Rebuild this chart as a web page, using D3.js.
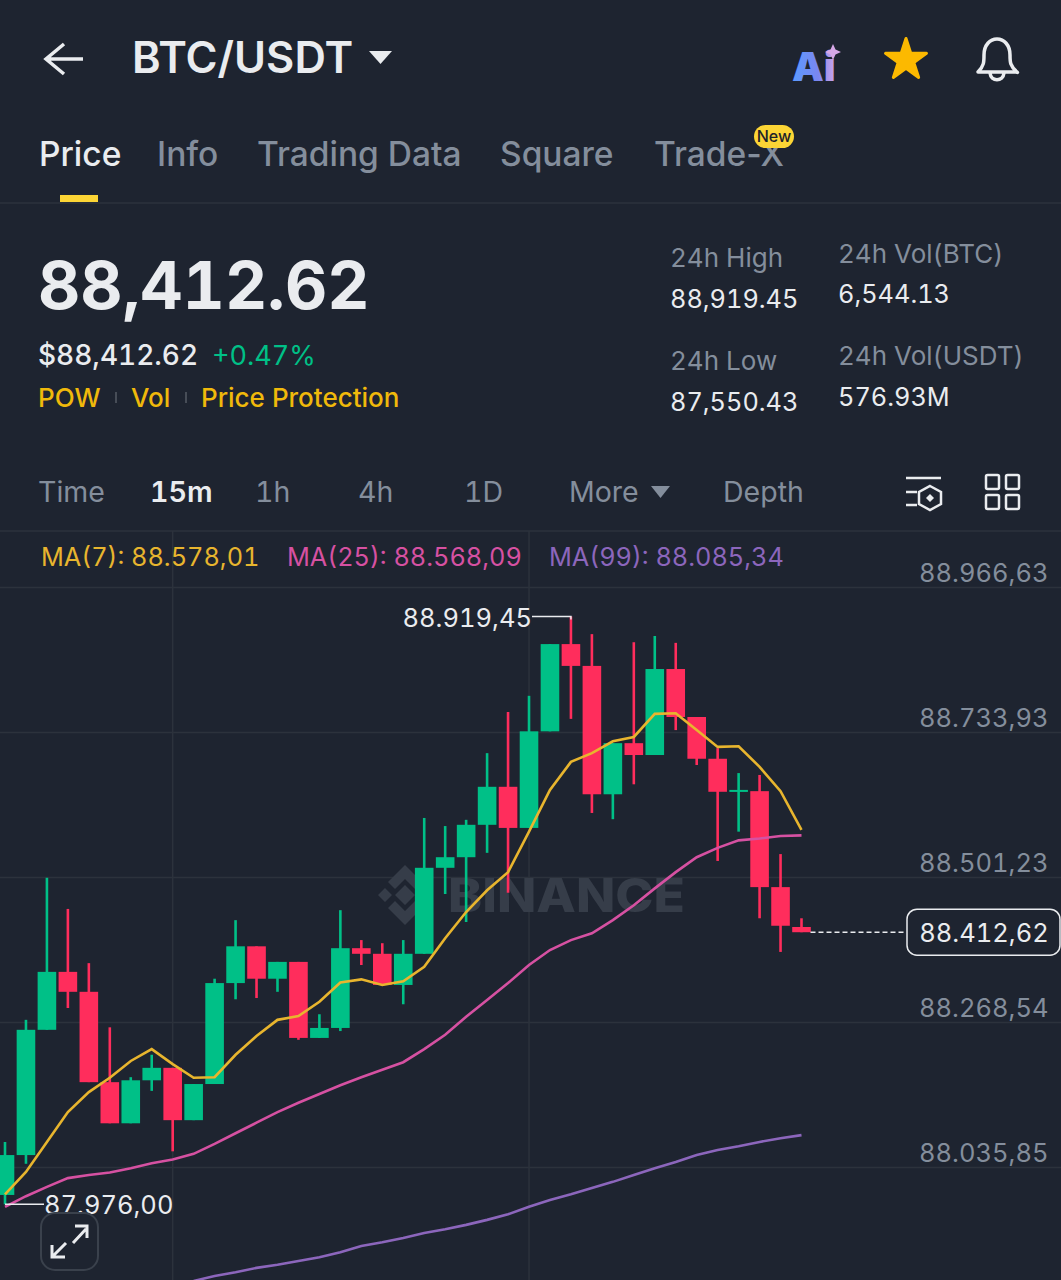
<!DOCTYPE html>
<html>
<head>
<meta charset="utf-8">
<script src="https://d3js.org/d3.v7.min.js"></script>
<style>
html, body { margin: 0; padding: 0; background: #1e2430; }
svg { display: block; font-family: Inter, "Noto Sans", sans-serif; font-variant-numeric: tabular-nums; }
</style>
</head>
<body>
<div id="chart"></div>
<script>
const width = 1061,
	height = 1280;

// candles, oldest first
const opens = [87991,88055,88256,88349,88317,88172,88106,88175,88195,88111,88169,88331,88390,88338,88365,88243,88259,88387,88378,88328,88378,88516,88533,88585,88646,88580,88735,88875,88840,88634,88716,88697,88835,88758,88691,88638,88639,88485,88421];
const highs = [88076,88272,88500,88450,88363,88260,88180,88216,88195,88169,88338,88432,88390,88365,88365,88281,88448,88400,88395,88400,88596,88583,88593,88700,88766,88792,88875,88919.45,88891,88716,88878,88888,88877,88758,88708,88668,88665,88538,88435];
const lows = [87976,88041,88256,88291,88172,88106,88106,88158,88061,88111,88169,88305,88307,88317,88240,88243,88254,88360,88328,88297,88378,88474,88429,88540,88476,88580,88735,88755,88604,88594,88650,88697,88737,88681,88527,88574,88435,88381,88412.62];
const closes = [88055,88256,88349,88317,88172,88106,88175,88195,88111,88169,88331,88390,88338,88365,88243,88259,88387,88378,88328,88378,88516,88533,88585,88646,88580,88735,88875,88840,88634,88716,88697,88835,88758,88691,88638,88641,88485,88423,88412.62];

// moving averages
const ma7 = [87992,88028,88076,88124,88156,88179,88206,88225,88201,88179,88180,88216,88246,88272,88278,88301,88332,88337,88328,88334,88357,88403,88445,88480,88509,88574,88641,88686,88700,88719,88726,88763,88764,88737,88710,88711,88678,88639,88577];
const ma25 = [87972,87989,88004,88018,88023,88027,88034,88042,88048,88057,88073,88090,88107,88124,88139,88153,88167,88180,88192,88204,88225,88248,88277,88304,88331,88360,88384,88400,88411,88432,88456,88483,88509,88533,88548,88560,88563,88567,88568];
const ma99 = [null,null,null,null,null,null,null,null,null,87853,87861,87867,87874,87879,87885,87891,87899,87909,87915,87922,87930,87936,87943,87951,87960,87972,87983,87992,88002,88012,88023,88034,88044,88055,88063,88069,88076,88082,88087];

const priceTicks = [88966.63, 88733.93, 88501.23, 88268.54, 88035.85];
const lastPrice = 88412.62,
	highPrice = 88919.45,
	lowPrice = 87976.00;
const maNames = ["MA(7)", "MA(25)", "MA(99)"];
const maLast = [88578.01, 88568.09, 88085.34];
const maLegendX = [42, 288, 550];

const tabs = ["Price", "Info", "Trading Data", "Square", "Trade-X"];
const tabX = [39, 157, 257, 500, 654];
const periods = ["Time", "15m", "1h", "4h", "1D", "More", "Depth"];
const periodX = [38, 150, 255, 358, 464, 569, 723];

const bg = "#1e2430",
	grid = "#2c323c",
	white = "#eaecef",
	gray = "#848e9c",
	yellow = "#f0b90b",
	green = "#00c087",
	red = "#ff2d5c",
	ma7Color = "#e8b52e",
	ma25Color = "#d651a2",
	ma99Color = "#8c66bc";
const maColors = [ma7Color, ma25Color, ma99Color];

const euro = d3.formatLocale({decimal: ",", thousands: ".", grouping: [3], currency: ["", ""]}).format(",.2f");

const svg = d3.select("#chart")
	.append("svg")
	.attr("width", width)
	.attr("height", height)
	.attr("viewBox", [0, 0, width, height]);

const x = d3.scaleLinear().domain([0, opens.length - 1]).range([5, 801.5]);
const y = d3.scaleLinear().domain([priceTicks[0], priceTicks[4]]).range([587, 1167]);

function label(g, px, py, text, size, color, weight, anchor) {
	return g.append("text")
		.attr("x", px)
		.attr("y", py)
		.attr("font-size", size)
		.attr("fill", color)
		.attr("font-weight", weight || 400)
		.attr("text-anchor", anchor || "start")
		.text(text);
}

svg.append("rect").attr("width", width).attr("height", height).attr("fill", bg);

// header
const head = svg.append("g");
head.append("path")
	.attr("d", "M83 59H47M64 44L46 59L64 74")
	.attr("fill", "none").attr("stroke", white).attr("stroke-width", 3.5);
label(head, 132, 73, "BTC/USDT", 43.5, white, 600);
head.append("path").attr("d", "M369 51H392L380.5 64Z").attr("fill", white);

const aiGrad = svg.append("defs").append("linearGradient").attr("id", "aiGrad");
aiGrad.append("stop").attr("offset", "0%").attr("stop-color", "#5b9bff");
aiGrad.append("stop").attr("offset", "60%").attr("stop-color", "#7a86f0");
aiGrad.append("stop").attr("offset", "100%").attr("stop-color", "#cfa5e8");
label(head, 792, 81, "Ai", 40, "url(#aiGrad)", 900);
head.append("path").attr("d", "M833 44L835.5 49.5L841 52L835.5 54.5L833 60L830.5 54.5L825 52L830.5 49.5Z").attr("fill", "#d6a8e6");
head.append("path")
	.attr("d", d3.symbol(d3.symbolStar, 520)())
	.attr("transform", "translate(906,60)")
	.attr("fill", "#fcb900").attr("stroke", "#fcb900").attr("stroke-width", 3).attr("stroke-linejoin", "round");
head.append("path")
	.attr("d", "M978 72C984 66 984 62 984 55C984 45 990 39 997 39C1004 39 1010 45 1010 55C1010 62 1010 66 1017 72C1018 73 1017 72 1016 72H979ZM990 73C991 82 1003 82 1004 73")
	.attr("fill", "none").attr("stroke", white).attr("stroke-width", 3.5).attr("stroke-linejoin", "round");

// tabs
const tabRow = svg.append("g").style("font-variant-numeric", "normal");
tabs.forEach((t, i) => label(tabRow, tabX[i], 166, t, 33.5, i === 0 ? white : gray, 500));
tabRow.append("rect").attr("x", 60).attr("y", 195).attr("width", 38).attr("height", 7).attr("fill", "#fcd535");
tabRow.append("rect").attr("x", 754).attr("y", 125).attr("width", 40).attr("height", 23).attr("rx", 11.5).attr("fill", "#fcd535");
label(tabRow, 774, 142, "New", 16, "#1e2329", 500, "middle");
svg.append("line").attr("x1", 0).attr("x2", width).attr("y1", 203).attr("y2", 203).attr("stroke", grid).attr("stroke-width", 1.5);

// price summary
const stats = svg.append("g");
label(stats, 38, 309, "88,412.62", 65.5, white, 700);
label(stats, 38, 365, "$88,412.62", 28, white, 500);
label(stats, 212, 365, "+0.47%", 27, green, 400);
label(stats, 38, 407, "POW", 26, yellow, 500);
label(stats, 131, 407, "Vol", 26, yellow, 500);
label(stats, 201, 407, "Price Protection", 26, yellow, 500);
stats.append("rect").attr("x", 115).attr("y", 392).attr("width", 2).attr("height", 11).attr("fill", "#474d57");
stats.append("rect").attr("x", 185).attr("y", 392).attr("width", 2).attr("height", 11).attr("fill", "#474d57");
label(stats, 670, 267, "24h High", 26, gray);
label(stats, 670, 308, "88,919.45", 25.3, white);
label(stats, 670, 370, "24h Low", 26, gray);
label(stats, 670, 411, "87,550.43", 25.3, white);
label(stats, 838, 263, "24h Vol(BTC)", 26, gray);
label(stats, 838, 303, "6,544.13", 25.3, white);
label(stats, 838, 365, "24h Vol(USDT)", 26, gray);
label(stats, 838, 406, "576.93M", 25.3, white);

// period row
const row = svg.append("g");
periods.forEach((p, i) => label(row, periodX[i], 502, p, 28.5, i === 1 ? white : gray, i === 1 ? 600 : 400));
row.append("path").attr("d", "M651 486H670L660.5 498Z").attr("fill", gray);
row.append("path").attr("d", "M906 478H941M906 492H917M906 505H917").attr("stroke", white).attr("stroke-width", 2.5).attr("fill", "none");
row.append("path").attr("d", "M930 486L941 492V504L930 510L919 504V492Z").attr("stroke", white).attr("stroke-width", 2.5).attr("fill", "none");
row.append("path").attr("d", "M930 494L934 498L930 502L926 498Z").attr("fill", white);
row.selectAll(".cell")
	.data([[986, 475], [1006, 475], [986, 495], [1006, 495]])
	.enter().append("rect")
	.attr("x", d => d[0]).attr("y", d => d[1])
	.attr("width", 13).attr("height", 14).attr("rx", 1.5)
	.attr("fill", "none").attr("stroke", white).attr("stroke-width", 2.5);
svg.append("line").attr("x1", 0).attr("x2", width).attr("y1", 531).attr("y2", 531).attr("stroke", grid).attr("stroke-width", 1.5);

// price axis: grid lines run the whole width, labels sit above them
const axis = d3.axisLeft(y)
	.tickValues(priceTicks)
	.tickSize(width)
	.tickFormat(euro);
svg.append("g")
	.attr("transform", `translate(${width},0)`)
	.call(axis)
	.call(g => g.select(".domain").remove())
	.call(g => g.selectAll("line").attr("stroke", grid).attr("stroke-width", 1.5))
	.call(g => g.selectAll("text")
		.attr("x", -12.5)
		.attr("dy", -6)
		.attr("text-anchor", "end")
		.attr("font-family", "Inter, sans-serif")
		.attr("font-size", 25.5)
		.attr("fill", gray));

svg.append("g").selectAll("line")
	.data([8, 25])
	.enter().append("line")
	.attr("x1", d => x(d)).attr("x2", d => x(d))
	.attr("y1", 531).attr("y2", height)
	.attr("stroke", grid).attr("stroke-width", 1.5);

// watermark
const mark = svg.append("g").attr("fill", "#363d49");
mark.append("path")
	.attr("d", "M405 865L422 882L415 889L405 879L395 889L388 882ZM378 895L385 888L392 895L385 902ZM418 895L425 888L432 895L425 902ZM405 885L415 895L405 905L395 895ZM388 908L395 901L405 911L415 901L422 908L405 925Z");
label(mark, 448, 912, "BINANCE", 47, "#363d49", 800)
	.attr("textLength", 237)
	.attr("lengthAdjust", "spacingAndGlyphs");

// candles
const candles = svg.append("g");
const idx = d3.range(opens.length);
const colorOf = i => closes[i] >= opens[i] ? green : red;
candles.selectAll(".wick")
	.data(idx)
	.enter().append("line")
	.attr("class", "wick")
	.attr("x1", x).attr("x2", x)
	.attr("y1", i => y(highs[i]))
	.attr("y2", i => y(lows[i]))
	.attr("stroke", colorOf)
	.attr("stroke-width", 2.6);
candles.selectAll(".body")
	.data(idx)
	.enter().append("rect")
	.attr("class", "body")
	.attr("x", i => x(i) - 9.3)
	.attr("width", 18.6)
	.attr("y", i => y(Math.max(opens[i], closes[i])))
	.attr("height", i => Math.max(2, Math.abs(y(opens[i]) - y(closes[i]))))
	.attr("fill", colorOf);

// moving average lines
const maLine = d3.line()
	.defined(d => d != null)
	.x((d, i) => x(i))
	.y(d => y(d));
[[ma99, ma99Color], [ma25, ma25Color], [ma7, ma7Color]].forEach(([values, color]) => {
	svg.append("path")
		.attr("d", maLine(values))
		.attr("fill", "none")
		.attr("stroke", color)
		.attr("stroke-width", 2.6);
});

// legend
const legend = svg.append("g");
maNames.forEach((n, i) => label(legend, maLegendX[i] - 1, 566, n + ": " + euro(maLast[i]), 25.3, maColors[i]));

// high and low markers
const marks = svg.append("g");
marks.append("path")
	.attr("d", `M532 ${y(highPrice)}H${x(27)}V${y(highPrice) + 3}M${x(0)} ${y(lowPrice)}H44`)
	.attr("fill", "none").attr("stroke", white).attr("stroke-width", 1.5);
label(marks, 532, y(highPrice) + 11, euro(highPrice), 25.5, white, 400, "end");
label(marks, 44, y(lowPrice) + 10, euro(lowPrice), 25.5, white);

// last price tag
const tag = svg.append("g");
tag.append("line")
	.attr("x1", x(38) + 9).attr("x2", 906)
	.attr("y1", y(lastPrice)).attr("y2", y(lastPrice))
	.attr("stroke", white).attr("stroke-width", 1.5).attr("stroke-dasharray", "5 3");
tag.append("rect")
	.attr("x", 907).attr("y", y(lastPrice) - 23)
	.attr("width", 153).attr("height", 46).attr("rx", 10)
	.attr("fill", bg).attr("stroke", white).attr("stroke-width", 1.5);
label(tag, 984, y(lastPrice) + 10, euro(lastPrice), 25.5, white, 400, "middle");

// fullscreen button
const btn = svg.append("g");
btn.append("rect").attr("x", 41).attr("y", 1213).attr("width", 57).attr("height", 57).attr("rx", 14)
	.attr("fill", bg).attr("stroke", "#3a414c").attr("stroke-width", 2);
btn.append("path")
	.attr("d", "M73 1243L86 1229M75 1226H87V1238M66 1243L53 1256M52 1245V1257H65")
	.attr("fill", "none").attr("stroke", white).attr("stroke-width", 3);
</script>
</body>
</html>
